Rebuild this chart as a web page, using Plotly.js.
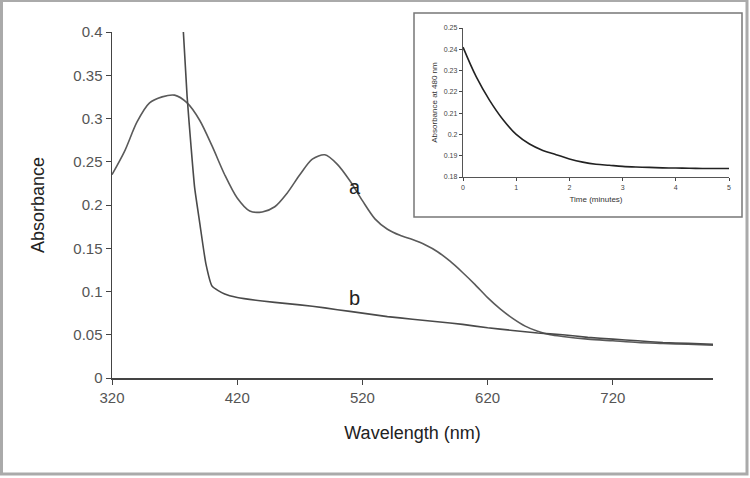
<!DOCTYPE html>
<html>
<head>
<meta charset="utf-8">
<script src="https://cdn.plot.ly/plotly-3.0.1.min.js"></script>
<style>
  body { margin: 0; background: #fff; }
  #myPlot { width: 750px; height: 478px; }
</style>
</head>
<body>
<div id="myPlot"></div>
<script>
// Spectrum a (nm, absorbance)
const aWave = [320, 330, 340, 350, 360, 370, 380, 390, 400, 410, 420, 430, 440, 450, 460, 470, 480, 490, 500, 510,
  520, 530, 540, 550, 560, 570, 580, 590, 600, 610, 620, 630, 640, 650, 660, 670, 680, 700, 720, 740, 760, 780, 800];
const aAbs = [0.235, 0.262, 0.296, 0.318, 0.325, 0.327, 0.318, 0.298, 0.268, 0.235, 0.208, 0.193, 0.192, 0.198, 0.214,
  0.235, 0.253, 0.258, 0.247, 0.228, 0.205, 0.184, 0.172, 0.165, 0.160, 0.154, 0.146, 0.135, 0.122, 0.108, 0.093,
  0.080, 0.069, 0.060, 0.054, 0.050, 0.048, 0.045, 0.043, 0.041, 0.040, 0.039, 0.038];

// Spectrum b
const bWave = [377, 380, 383, 386, 390, 395, 400, 410, 420, 440, 460, 480, 500, 520, 540, 560, 580, 600, 620, 640,
  660, 680, 700, 720, 740, 760, 780, 800];
const bAbs = [0.400, 0.325, 0.270, 0.220, 0.180, 0.132, 0.106, 0.097, 0.093, 0.089, 0.086, 0.083, 0.079, 0.075, 0.071,
  0.068, 0.065, 0.062, 0.058, 0.055, 0.052, 0.050, 0.047, 0.045, 0.043, 0.041, 0.040, 0.039];

// Inset: decay at 480 nm
const decayTime = [0, 0.25, 0.5, 0.75, 1.0, 1.25, 1.5, 1.75, 2.0, 2.25, 2.5, 2.75, 3.0, 3.25, 3.5, 3.75, 4.0, 4.25, 4.5, 4.75, 5.0];
const decayAbs = [0.241, 0.227, 0.216, 0.207, 0.200, 0.1955, 0.1925, 0.1905, 0.1885, 0.187, 0.186, 0.1855, 0.185,
  0.1847, 0.1845, 0.1843, 0.1842, 0.1841, 0.184, 0.184, 0.184];

const mainTicks = [320, 420, 520, 620, 720];
const curveLabels = ["a", "b"];
const labelPos = [[514, 0.221], [514, 0.092]];

// pixel -> paper helpers (paper spans x 112..735, y 5..378)
function px(x) { return (x - 112) / 623; }
function py(y) { return (378 - y) / 373; }

const fnt = "Arial, 'Liberation Sans', sans-serif";

const data = [
  { x: aWave, y: aAbs, mode: "lines", line: { color: "#5a5a5a", width: 1.6, shape: "spline", smoothing: 0.8 },
    xaxis: "x", yaxis: "y" },
  { x: bWave, y: bAbs, mode: "lines", line: { color: "#4a4a4a", width: 1.6, shape: "spline", smoothing: 0.5 },
    xaxis: "x", yaxis: "y" },
  { x: decayTime, y: decayAbs, mode: "lines", line: { color: "#222", width: 1.6, shape: "spline" },
    xaxis: "x2", yaxis: "y2" }
];

const layout = {
  width: 750,
  height: 478,
  showlegend: false,
  paper_bgcolor: "#fff",
  plot_bgcolor: "rgba(0,0,0,0)",
  margin: { l: 112, r: 15, t: 5, b: 100 },
  font: { family: fnt, color: "#333" },
  xaxis: {
    domain: [0, px(713)], range: [320, 800], tickvals: mainTicks,
    ticks: "outside", ticklen: 5, tickcolor: "#444", showline: true, linecolor: "#444", linewidth: 1.5,
    showgrid: false, zeroline: false, tickfont: { size: 15, color: "#555" },
    title: { text: "Wavelength (nm)", font: { size: 18, color: "#222" }, standoff: 22 }
  },
  yaxis: {
    domain: [0, py(32)], range: [0, 0.4], dtick: 0.05, tick0: 0,
    ticks: "outside", ticklen: 5, tickcolor: "#444", showline: true, linecolor: "#444", linewidth: 1.5,
    showgrid: false, zeroline: false, tickfont: { size: 15, color: "#555" },
    title: { text: "Absorbance", font: { size: 18, color: "#222" }, standoff: 24 }
  },
  xaxis2: {
    domain: [px(463), px(729)], anchor: "y2", range: [0, 5], dtick: 1,
    ticks: "outside", ticklen: 3, tickcolor: "#444", showline: true, linecolor: "#555", linewidth: 1.2,
    showgrid: false, zeroline: false, tickfont: { size: 7, color: "#444" },
    title: { text: "Time (minutes)", font: { size: 8, color: "#333" }, standoff: 6 }
  },
  yaxis2: {
    domain: [py(177), py(28)], anchor: "x2", range: [0.18, 0.25], dtick: 0.01,
    ticks: "outside", ticklen: 3, tickcolor: "#444", showline: true, linecolor: "#555", linewidth: 1.2,
    showgrid: false, zeroline: false, tickfont: { size: 7, color: "#444" },
    title: { text: "Absorbance at 480 nm", font: { size: 8, color: "#333" }, standoff: 5 }
  },
  annotations: curveLabels.map((t, i) => ({
    x: labelPos[i][0], y: labelPos[i][1], xref: "x", yref: "y", text: t, showarrow: false,
    font: { size: 20, color: "#222", family: fnt }
  })),
  shapes: [
    // inset frame
    { type: "rect", xref: "paper", yref: "paper", x0: px(414), x1: px(742), y0: py(217), y1: py(13),
      line: { color: "#777", width: 1.5 }, fillcolor: "rgba(0,0,0,0)" },
    // picture border
    { type: "rect", xref: "paper", yref: "paper", x0: px(1.5), x1: px(747), y0: py(474), y1: py(0.5),
      line: { color: "#aaa", width: 3 }, fillcolor: "rgba(0,0,0,0)" }
  ]
};

Plotly.newPlot("myPlot", data, layout, { staticPlot: true });
</script>
</body>
</html>
